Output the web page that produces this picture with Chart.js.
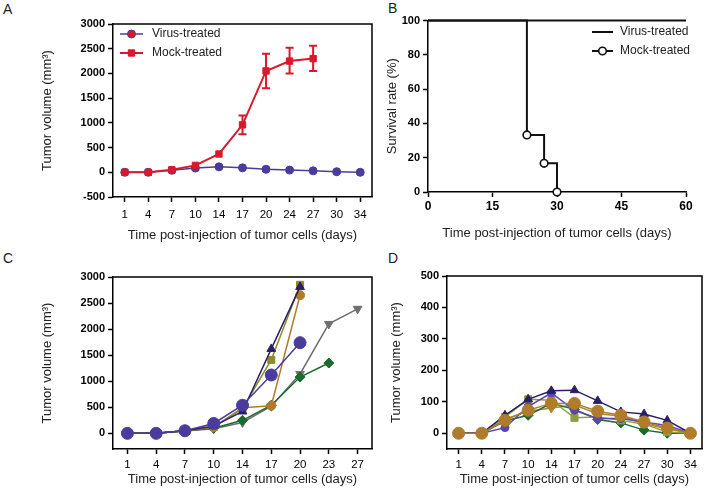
<!DOCTYPE html>
<html><head><meta charset="utf-8">
<script src="https://cdn.jsdelivr.net/npm/chart.js@4"></script>
<style>
html,body{margin:0;padding:0;background:#fff;}
body{width:709px;height:494px;position:relative;overflow:hidden;font-family:'Liberation Sans',Arial,sans-serif;}
.pl{position:absolute;font-size:14px;color:#222;line-height:1;}
canvas{position:absolute;}
</style></head><body>
<div class="pl" style="left:3px;top:2px">A</div>
<div class="pl" style="left:388px;top:1px">B</div>
<div class="pl" style="left:3px;top:251px">C</div>
<div class="pl" style="left:388px;top:251px">D</div>
<canvas id="ca" width="340" height="233" style="left:40px;top:10px"></canvas>
<canvas id="cb" width="324" height="236" style="left:385px;top:5px"></canvas>
<canvas id="cc" width="340" height="225" style="left:40px;top:262px"></canvas>
<canvas id="cd" width="320" height="225" style="left:389px;top:262px"></canvas>
<script>
// ---------- data ----------
const daysA = ['1','4','7','10','14','17','20','24','27','30','34'];
const virusA = [0,0,40,85,110,90,60,45,30,12,0];
const mockA = [0,0,50,140,370,960,2050,2250,2300,null,null];
const mockErrLow = [null,null,null,null,null,770,1700,2000,2050,null,null];
const mockErrHigh = [null,null,null,null,null,1150,2400,2520,2560,null,null];
const yTicksA = [-500,0,500,1000,1500,2000,2500,3000];

const survVirusX = [0,60];
const survVirusY = [100,100];
const survMockX = [0,23,27,30];
const survMockY = [100,33.3,16.7,0];
const xTicksB = [0,15,30,45,60];
const yTicksB = [0,20,40,60,80,100];

const daysC = ['1','4','7','10','14','17','20','23','27'];
const c1 = [0,0,50,190,540,1120,1740,null,null];
const c2 = [0,0,50,140,420,1620,2810,null,null];
const c3 = [0,0,50,120,480,1410,2850,null,null];
const c4 = [0,0,50,120,490,530,2650,null,null];
const c5 = [0,0,50,100,250,540,1080,1350,null];
const c6 = [0,0,45,90,210,520,1140,2100,2390];
const yTicksC = [0,500,1000,1500,2000,2500,3000];

const daysD = ['1','4','7','10','14','17','20','24','27','30','34'];
const d1 = [0,0,41,73,95,95,70,57,36,17,0];
const d2 = [0,0,57,108,135,137,103,68,61,41,0];
const d3 = [0,0,18,85,128,73,47,47,36,25,0];
const d4 = [0,0,52,108,105,49,52,41,29,4,0];
const d5 = [0,0,39,57,95,76,44,33,10,0,0];
const d6 = [0,0,45,70,80,90,62,55,30,14,0];
const yTicksD = [0,100,200,300,400,500];

// ---------- styling helpers ----------
const SANS = "'Liberation Sans', Arial, sans-serif";
const NARROW = "'Liberation Sans Narrow', 'Arial Narrow', 'Liberation Sans', Arial, sans-serif";
Chart.defaults.font.family = SANS;
Chart.defaults.color = '#000';

const COL = {
  virus:'#4a3c9c', mock:'#d9192b',
  purple:'#4a3c9c', navy:'#2b1e66', olive:'#8c8c2c', brown:'#b07c2c',
  green:'#1b6a2e', gray:'#6e6e6e', lolive:'#8fa03a', tan:'#a58a3a', lpurple:'#5a48a8'
};

function fixedTicks(list){ return s=>{ s.ticks = list.map(v=>({value:v})); }; }

function yAxis(min,max,list,width){
  return {
    type:'linear', min:min, max:max,
    afterFit:s=>{s.width=width;},
    afterBuildTicks:fixedTicks(list),
    ticks:{padding:3, color:'#000', callback:v=>String(v),
      font:{family:SANS, weight:'bold', size:11}},
    grid:{drawOnChartArea:false, drawTicks:true, tickLength:5, tickColor:'#000', tickWidth:1.5},
    border:{display:true, color:'#000', width:1.5},
    title:{display:true, text:'Tumor volume (mm³)', color:'#222', padding:0,
      font:{family:SANS, size:13}}
  };
}
function xCat(height,pad){
  return {
    type:'category', offset:true,
    afterFit:s=>{s.height=height;},
    ticks:{padding:pad, color:'#000', autoSkip:false, maxRotation:0,
      font:{family:NARROW, size:11.5}},
    grid:{drawOnChartArea:false, offset:false, drawTicks:true, tickLength:5, tickColor:'#000', tickWidth:1.5},
    border:{display:true, color:'#000', width:1.5},
    title:{display:true, text:'Time post-injection of tumor cells (days)', color:'#222', padding:0,
      font:{family:SANS, size:13}}
  };
}
function line(data,color,style,radius,opts){
  return Object.assign({data:data, borderColor:color, backgroundColor:color,
    pointBackgroundColor:color, pointBorderColor:color, borderWidth:1.5,
    pointStyle:style, pointRadius:radius, pointHoverRadius:radius, pointBorderWidth:1,
    tension:0, spanGaps:false, fill:false, clip:false}, opts||{});
}

// frame (top & right borders)
const framePlugin = {
  id:'frame',
  afterDatasetsDraw(chart,args,o){
    if(!o || !o.on) return;
    const a=chart.chartArea, ctx=chart.ctx;
    ctx.save(); ctx.strokeStyle='#000'; ctx.lineWidth=1.5;
    ctx.beginPath(); ctx.moveTo(a.left,a.top); ctx.lineTo(a.right,a.top); ctx.lineTo(a.right,a.bottom); ctx.stroke();
    ctx.restore();
  }
};
// error bars
const errPlugin = {
  id:'errBars',
  afterDatasetsDraw(chart,args,o){
    if(!o || !o.lo) return;
    const meta=chart.getDatasetMeta(o.ds), ys=chart.scales.y, ctx=chart.ctx;
    ctx.save(); ctx.strokeStyle=o.color; ctx.lineWidth=2;
    o.lo.forEach((lo,i)=>{
      if(lo==null) return;
      const x=meta.data[i].x, y1=ys.getPixelForValue(lo), y2=ys.getPixelForValue(o.hi[i]);
      ctx.beginPath();
      ctx.moveTo(x,y1); ctx.lineTo(x,y2);
      ctx.moveTo(x-o.cap,y1); ctx.lineTo(x+o.cap,y1);
      ctx.moveTo(x-o.cap,y2); ctx.lineTo(x+o.cap,y2);
      ctx.stroke();
    });
    ctx.restore();
  }
};
// mini legend
const legPlugin = {
  id:'miniLeg',
  afterDraw(chart,args,o){
    if(!o || !o.items) return;
    const ctx=chart.ctx;
    o.items.forEach((it,i)=>{
      const ds=chart.data.datasets[it.ds];
      const y=o.y+i*o.dy;
      ctx.save();
      ctx.strokeStyle=ds.borderColor; ctx.lineWidth=it.lw||ds.borderWidth;
      ctx.beginPath(); ctx.moveTo(o.x0,y); ctx.lineTo(o.x1,y); ctx.stroke();
      if(it.marker){
        ctx.fillStyle=it.fill||ds.pointBackgroundColor; ctx.strokeStyle=ds.pointBorderColor||ds.borderColor;
        ctx.lineWidth=it.bw||1;
        Chart.helpers.drawPoint(ctx,{pointStyle:ds.pointStyle,radius:it.r,borderWidth:it.bw||1,rotation:0},(o.x0+o.x1)/2,y);
      }
      ctx.fillStyle='#222'; ctx.font='12px '+SANS; ctx.textBaseline='middle'; ctx.textAlign='left';
      ctx.fillText(it.text,o.tx,y);
      ctx.restore();
    });
  }
};
Chart.register(framePlugin, errPlugin, legPlugin);

const common = {responsive:false, animation:false, events:[],
  plugins:{legend:{display:false}, tooltip:{enabled:false}}};

// ---------- Panel A ----------
new Chart(document.getElementById('ca'),{
  type:'line',
  data:{labels:daysA, datasets:[
    line(mockA,COL.mock,'rect',4.5,{borderWidth:2}),
    line(virusA,COL.virus,'circle',4,{borderWidth:1.5})
  ]},
  options:Object.assign({},common,{
    layout:{padding:{top:14,right:8,left:0,bottom:0}},
    scales:{x:xCat(46,6), y:yAxis(-500,3000,yTicksA,73)},
    plugins:Object.assign({},common.plugins,{
      frame:{on:true},
      errBars:{ds:0, lo:mockErrLow, hi:mockErrHigh, color:COL.mock, cap:4},
      miniLeg:{x0:80,x1:103,tx:112,y:24,dy:19,items:[
        {ds:1,text:'Virus-treated',marker:true,r:4},
        {ds:0,text:'Mock-treated',marker:true,r:4.5}
      ]}
    })
  })
});

// ---------- Panel B ----------
new Chart(document.getElementById('cb'),{
  type:'line',
  data:{datasets:[
    {data:survMockX.map((x,i)=>({x:x,y:survMockY[i]})), borderColor:'#111', borderWidth:2,
     stepped:true, pointRadius:[0,3.8,3.8,3.8], pointStyle:'circle', pointBackgroundColor:'#fff',
     pointBorderColor:'#111', pointBorderWidth:1.6, fill:false, clip:false},
    {data:survVirusX.map((x,i)=>({x:x,y:survVirusY[i]})), borderColor:'#111', borderWidth:2,
     pointRadius:0, fill:false, clip:false}
  ]},
  options:Object.assign({},common,{
    layout:{padding:{top:15.5,right:23,left:0,bottom:0}},
    scales:{
      x:{type:'linear',min:0,max:60, afterFit:s=>{s.height=49;}, afterBuildTicks:fixedTicks(xTicksB),
        ticks:{padding:2,color:'#000',callback:v=>String(v),font:{family:SANS,weight:'bold',size:12}},
        grid:{drawOnChartArea:false,drawTicks:true,tickLength:5,tickColor:'#000',tickWidth:1.5},
        border:{display:true,color:'#000',width:1.5},
        title:{display:true,text:'Time post-injection of tumor cells (days)',color:'#222',padding:0,font:{family:SANS,size:13}}},
      y:{type:'linear',min:0,max:100, afterFit:s=>{s.width=43;}, afterBuildTicks:fixedTicks(yTicksB),
        ticks:{padding:3,color:'#000',callback:v=>String(v),font:{family:SANS,weight:'bold',size:11}},
        grid:{drawOnChartArea:false,drawTicks:true,tickLength:5,tickColor:'#000',tickWidth:1.5},
        border:{display:true,color:'#000',width:1.5},
        title:{display:true,text:'Survival rate (%)',color:'#222',padding:0,font:{family:SANS,size:13}}}
    },
    plugins:Object.assign({},common.plugins,{
      miniLeg:{x0:207,x1:228,tx:235,y:27,dy:19,items:[
        {ds:1,text:'Virus-treated',marker:false,lw:2},
        {ds:0,text:'Mock-treated',marker:true,r:3.8,fill:'#fff',bw:1.6}
      ]}
    })
  })
});

// ---------- Panel C ----------
new Chart(document.getElementById('cc'),{
  type:'line',
  data:{labels:daysC, datasets:[
    line(c1,COL.purple,'circle',6),
    line(c2,COL.navy,'triangle',5),
    line(c3,COL.olive,'rect',5),
    line(c4,COL.brown,'circle',4.5),
    line(c5,COL.green,'rectRot',5),
    line(c6,COL.gray,'triangle',5,{pointRotation:180})
  ]},
  options:Object.assign({},common,{
    layout:{padding:{top:15,right:8,left:0,bottom:0}},
    scales:{x:xCat(38,4), y:yAxis(-300,3000,yTicksC,73)},
    plugins:Object.assign({},common.plugins,{frame:{on:true}})
  })
});

// ---------- Panel D ----------
new Chart(document.getElementById('cd'),{
  type:'line',
  data:{labels:daysD, datasets:[
    line(d1,COL.brown,'circle',6),
    line(d2,COL.navy,'triangle',5),
    line(d3,COL.lpurple,'circle',4),
    line(d4,COL.lolive,'rect',5),
    line(d5,COL.green,'rectRot',5),
    line(d6,COL.tan,'triangle',5,{pointRotation:180})
  ]},
  options:Object.assign({},common,{
    layout:{padding:{top:14,right:7,left:0,bottom:0}},
    scales:{x:xCat(38,4), y:yAxis(-50,500,yTicksD,58)},
    plugins:Object.assign({},common.plugins,{frame:{on:true}})
  })
});
</script>
</body></html>
